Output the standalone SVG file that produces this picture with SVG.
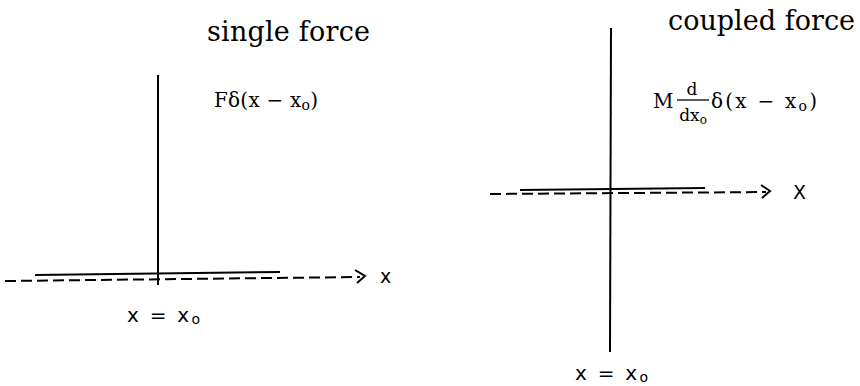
<svg xmlns="http://www.w3.org/2000/svg" width="860" height="386" viewBox="0 0 860 386">
<style>
.ax{stroke:#000;stroke-width:2;fill:none}
.ds{stroke:#000;stroke-width:2;fill:none;stroke-dasharray:11,5}
.t{font-family:"DejaVu Serif","Liberation Serif",serif;fill:#000}
.s{font-family:"DejaVu Sans","Liberation Sans",sans-serif;fill:#000}
</style>
<rect width="860" height="386" fill="#fff"/>
<g id="connectors">
<line class="ax" x1="158" y1="75" x2="158" y2="285"/>
<line class="ax" x1="35" y1="275" x2="280" y2="272"/>
<path class="ds" d="M5 281 L360 277"/>
<path class="ax" d="M355 270 L365 276 L357 283"/>
<line class="ax" x1="611" y1="28" x2="610" y2="352"/>
<line class="ax" x1="520" y1="190" x2="705" y2="188"/>
<path class="ds" d="M490 194 L766 192"/>
<path class="ax" d="M761 185 L770 191 L762 198"/>
</g>
<g id="title-single"><text class="t" x="207" y="41" font-size="27" textLength="163">single force</text></g>
<g id="title-coupled"><text class="t" x="668" y="30" font-size="27" textLength="187">coupled force</text></g>
<g id="label-F"><text class="t" x="214" y="107" font-size="20" textLength="104">Fδ(x − x<tspan font-size="14" dy="3">o</tspan><tspan dy="-3">)</tspan></text></g>
<g id="label-M">
<text class="t" x="653" y="108" font-size="20">M</text>
<text class="t" x="692" y="95" font-size="17" text-anchor="middle">d</text>
<line x1="677" y1="100" x2="709" y2="100" stroke="#000" stroke-width="1.3"/>
<text class="t" x="693" y="121" font-size="17" text-anchor="middle">dx<tspan font-size="12" dy="3">o</tspan></text>
<text class="t" x="711" y="108" font-size="20" textLength="106">δ(x − x<tspan font-size="14" dy="3">o</tspan><tspan dy="-3">)</tspan></text>
</g>
<g id="label-x1"><text class="s" x="380" y="283" font-size="19">x</text></g>
<g id="label-x2"><text class="s" x="793" y="199" font-size="19">X</text></g>
<g id="label-x0-left"><text class="s" x="127" y="322" font-size="20" textLength="73">x = x<tspan font-size="14" dy="2">o</tspan></text></g>
<g id="label-x0-right"><text class="s" x="575" y="380" font-size="20" textLength="73">x = x<tspan font-size="14" dy="2">o</tspan></text></g>
</svg>
